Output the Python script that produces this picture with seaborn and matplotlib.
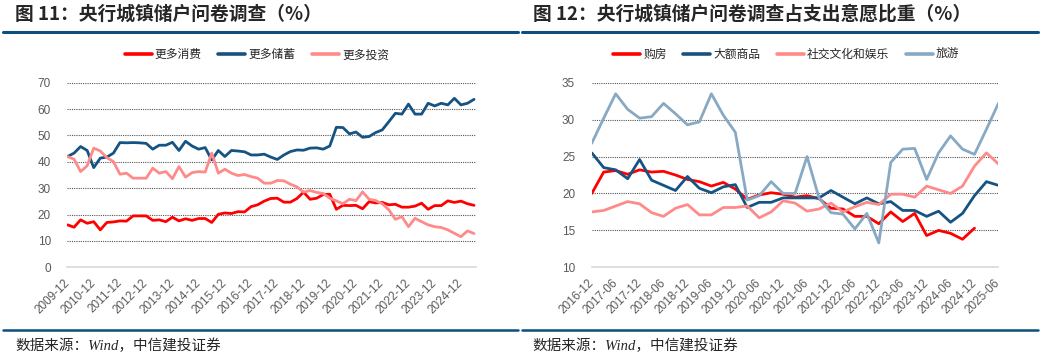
import matplotlib
matplotlib.use("Agg")
import matplotlib.pyplot as plt
from matplotlib.lines import Line2D
import numpy as np
import pandas as pd
import seaborn as sns

# ---- left chart: quarterly survey, 2009-12 .. 2025-06 ----
left_ticks = ["2009-12", "2010-12", "2011-12", "2012-12", "2013-12", "2014-12",
              "2015-12", "2016-12", "2017-12", "2018-12", "2019-12", "2020-12",
              "2021-12", "2022-12", "2023-12", "2024-12"]
left_names = ["更多消费", "更多储蓄", "更多投资"]
consume = [16.1, 15.2, 18.0, 16.7, 17.3, 14.2, 17.0, 17.2, 17.6, 17.5,
           19.5, 19.5, 19.5, 17.8, 18.0, 17.3, 19.0, 17.6, 18.4, 17.8,
           18.5, 18.5, 17.0, 20.1, 20.6, 20.4, 21.1, 21.0, 23.0, 23.7,
           25.1, 26.1, 26.2, 24.7, 24.7, 26.1, 28.5, 25.8, 26.2, 27.6,
           27.7, 22.0, 23.5, 23.4, 23.5, 22.2, 24.9, 24.4, 24.6, 23.7,
           23.9, 22.8, 22.8, 23.2, 24.3, 22.0, 23.4, 23.4, 25.2, 24.6,
           25.1, 24.1, 23.5]
saving = [42.0, 43.3, 45.8, 44.3, 37.8, 41.4, 41.8, 43.3, 47.3, 47.2,
          47.3, 47.2, 47.0, 44.8, 46.3, 46.3, 47.4, 44.3, 47.8, 46.0,
          44.8, 45.4, 40.7, 44.3, 42.0, 44.3, 44.1, 43.8, 42.6, 42.6,
          42.9, 41.8, 40.9, 42.6, 43.9, 44.5, 44.4, 45.2, 45.3, 44.8,
          46.0, 53.1, 53.0, 50.6, 51.3, 49.3, 49.6, 51.1, 52.1, 55.2,
          58.4, 58.1, 61.9, 58.1, 58.1, 62.2, 61.2, 62.2, 61.6, 64.1,
          61.6, 62.2, 63.7]
invest = [42.0, 41.0, 36.3, 38.5, 45.2, 44.1, 41.6, 40.1, 35.3, 35.7,
          33.8, 33.8, 33.8, 37.6, 35.7, 36.3, 33.6, 38.2, 34.2, 35.9,
          36.3, 36.1, 43.3, 35.7, 37.2, 35.7, 34.8, 35.2, 34.4, 33.8,
          31.9, 31.9, 32.9, 32.8, 31.5, 30.5, 28.5, 29.1, 28.4, 28.0,
          26.2, 25.2, 24.1, 25.8, 25.3, 28.6, 25.8, 25.3, 24.1, 21.8,
          18.2, 19.2, 15.4, 18.6, 17.3, 16.1, 15.4, 15.1, 14.2, 12.9,
          11.6, 13.8, 12.8]

# ---- right chart: quarterly, 2016-12 .. 2025-06 ----
right_ticks = ["2016-12", "2017-06", "2017-12", "2018-06", "2018-12", "2019-06",
               "2019-12", "2020-06", "2020-12", "2021-06", "2021-12", "2022-06",
               "2022-12", "2023-06", "2023-12", "2024-06", "2024-12", "2025-06"]
right_names = ["购房", "大额商品", "社交文化和娱乐", "旅游"]
house = [20.0, 22.9, 23.1, 22.6, 23.2, 22.9, 23.0, 22.5, 21.9, 21.6,
         21.0, 21.5, 20.6, 19.2, 19.8, 20.1, 19.9, 19.5, 19.7, 19.3,
         18.0, 17.9, 16.9, 16.9, 15.9, 17.5, 16.2, 17.3, 14.3, 15.0,
         14.6, 13.8, 15.3, np.nan, np.nan]
goods = [25.5, 23.5, 23.2, 22.0, 24.6, 21.8, 21.1, 20.4, 22.3, 20.7,
         20.1, 20.9, 21.2, 18.1, 18.8, 18.8, 19.4, 19.4, 19.4, 19.4,
         20.4, 19.5, 18.6, 19.4, 18.6, 18.9, 17.7, 17.7, 16.9, 17.6,
         16.1, 17.3, 19.7, 21.6, 21.1]
leisure = [17.5, 17.7, 18.3, 18.9, 18.6, 17.4, 16.9, 18.0, 18.5, 17.1,
           17.1, 18.1, 18.1, 18.3, 16.7, 17.5, 19.0, 18.7, 17.6, 17.9,
           18.7, 17.5, 18.2, 18.8, 18.5, 19.9, 19.9, 19.5, 21.0, 20.5,
           20.0, 21.0, 23.7, 25.5, 24.0]
travel = [26.8, 30.2, 33.5, 31.4, 30.2, 30.4, 32.2, 30.8, 29.3, 29.7,
          33.5, 30.6, 28.3, 19.1, 19.7, 21.6, 20.0, 20.0, 25.0, 19.4,
          17.4, 17.2, 15.2, 17.3, 13.3, 24.2, 26.0, 26.1, 21.9, 25.5,
          27.8, 26.0, 25.3, 28.7, 32.2]

RED = "#FF0000"
NAVY = "#155383"
PINK = "#FF8A8A"
STEEL = "#87A9C3"
RULE = "#0C4F7D"
GRAY = "#595959"

sns.set_style("white")
plt.rcParams["font.family"] = ["Liberation Sans", "Noto Sans CJK SC"]


def long_table(names, columns):
    frames = []
    for name, vals in zip(names, columns):
        frames.append(pd.DataFrame({"idx": np.arange(len(vals)), "value": vals, "series": name}))
    return pd.concat(frames, ignore_index=True).dropna()


def draw_panel(ax, names, columns, colors, ticks, step, ylim, ystep, xmax, legend_x):
    df = long_table(names, columns)
    sns.lineplot(data=df, x="idx", y="value", hue="series", hue_order=names,
                 palette=dict(zip(names, colors)), estimator=None,
                 linewidth=2.0, ax=ax)

    ax.set_xlim(0, xmax)
    ax.set_ylim(*ylim)
    ax.set_yticks(np.arange(ylim[0], ylim[1] + 0.1, ystep))
    ax.set_xticks(np.arange(0, len(ticks) * step, step))
    ax.set_xticklabels(ticks, rotation=45, ha="right", va="center",
                       rotation_mode="anchor")
    ax.set_xlabel("")
    ax.set_ylabel("")

    ax.yaxis.grid(True, linestyle=(0, (1, 1)), color="#555555", linewidth=0.8)
    ax.set_axisbelow(True)
    for s in ["top", "right", "left"]:
        ax.spines[s].set_visible(False)
    ax.spines["bottom"].set_color("#D9D9D9")
    ax.spines["bottom"].set_linewidth(1.2)
    ax.tick_params(axis="y", length=0, pad=12, labelsize=8.5, labelcolor=GRAY)
    ax.tick_params(axis="x", length=4, color="#D9D9D9", width=1, pad=6,
                   labelsize=8.5, labelcolor=GRAY)

    handles = [Line2D([], [], color=c, lw=2.6) for c in colors]
    ax.legend(handles, names, loc="center", bbox_to_anchor=(legend_x, 0.849),
              bbox_transform=ax.figure.transFigure, ncol=len(names), frameon=False,
              handlelength=2.3, handletextpad=0.25, columnspacing=1.4,
              prop={"family": ["Noto Sans CJK SC"], "size": 8.5})


fig = plt.figure(figsize=(10.4, 3.62), dpi=100)

ax1 = fig.add_axes([0.0649, 0.2616, 0.3928, 0.5099])
draw_panel(ax1, left_names, [consume, saving, invest], [RED, NAVY, PINK],
           left_ticks, 4, (0, 70), 10, 62.3, 0.247)

ax2 = fig.add_axes([0.569, 0.2616, 0.391, 0.5099])
draw_panel(ax2, right_names, [house, goods, leisure, travel],
           [RED, NAVY, PINK, STEEL], right_ticks, 2, (10, 35), 5, 34, 0.756)

# titles, rules and source notes
title_font = {"family": ["Noto Sans CJK SC"], "weight": "bold", "size": 13.5}
fig.text(0.0144, 0.961, "图 11：央行城镇储户问卷调查（%）", va="center", ha="left",
         fontdict=title_font)
fig.text(0.5125, 0.961, "图 12：央行城镇储户问卷调查占支出意愿比重（%）", va="center",
         ha="left", fontdict=title_font)

for x0, x1 in [(0.003, 0.498), (0.502, 0.998)]:
    fig.add_artist(Line2D([x0, x1], [0.9108, 0.9108], transform=fig.transFigure,
                          color=RULE, lw=2.2))
    fig.add_artist(Line2D([x0, x1], [0.0884, 0.0884], transform=fig.transFigure,
                          color=RULE, lw=1.8))

src_font = {"family": ["Liberation Serif", "Noto Sans CJK SC"], "style": "italic",
            "size": 10.5}
fig.text(0.0144, 0.045, "数据来源：Wind，中信建投证券", va="center", ha="left",
         fontdict=src_font)
fig.text(0.512, 0.045, "数据来源：Wind，中信建投证券", va="center", ha="left",
         fontdict=src_font)

fig.savefig("out.png", dpi=100)
plt.close()
